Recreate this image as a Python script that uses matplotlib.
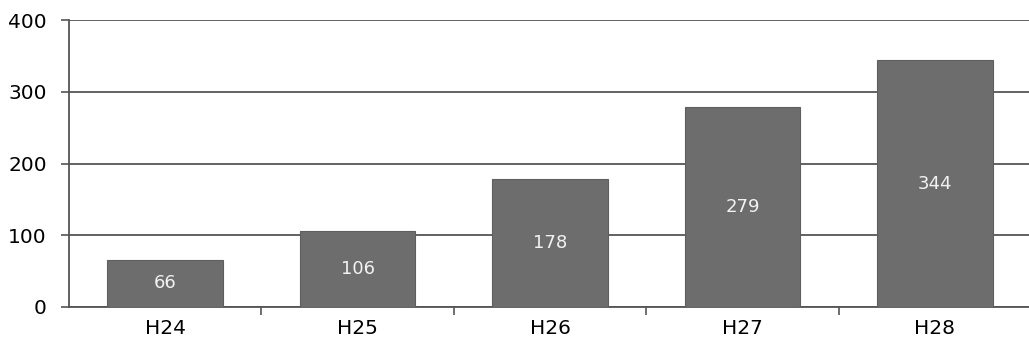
import matplotlib
matplotlib.use("Agg")
import matplotlib.pyplot as plt

categories = ["H24", "H25", "H26", "H27", "H28"]
values = [66, 106, 178, 279, 344]
yticks = [0, 100, 200, 300, 400]

plt.rcParams['font.family'] = ['DejaVu Sans']

fig = plt.figure(figsize=(10.29, 3.51), dpi=100)
ax = fig.add_axes([69/1029, 1 - 307/351, (1031 - 69)/1029, (307 - 20)/351])

x = list(range(len(categories)))
bars = ax.bar(x, values, width=0.6, color="#6d6d6d", edgecolor="#5e5e5e", linewidth=0.8, zorder=3)
for xi, v in zip(x, values):
    ax.text(xi, v / 2, str(v), ha="center", va="center", color="#f2f2f2", fontsize=13, zorder=4)

ax.set_xlim(-0.5, 4.5)
ax.set_ylim(0, 400)
ax.set_yticks(yticks)
ax.set_yticklabels([str(t) for t in yticks], fontsize=14.5)
ax.yaxis.grid(True, color="#555555", linewidth=1.3, zorder=1)
ax.set_axisbelow(True)

ax.set_xticks(x)
ax.set_xticklabels(categories, fontsize=14.5)
ax.tick_params(axis="x", length=0, pad=9)
ax.set_xticks([i + 0.5 for i in range(len(categories) - 1)], minor=True)
ax.tick_params(axis="x", which="minor", length=6, width=1.2, color="#555555", direction="out")
ax.tick_params(axis="y", length=6, width=1.2, color="#555555", pad=10)

for s in ["top", "right"]:
    ax.spines[s].set_visible(False)
ax.spines["left"].set_color("#555555")
ax.spines["left"].set_linewidth(1.3)
ax.spines["bottom"].set_color("#555555")
ax.spines["bottom"].set_linewidth(1.3)

fig.savefig("out.png", dpi=100)
